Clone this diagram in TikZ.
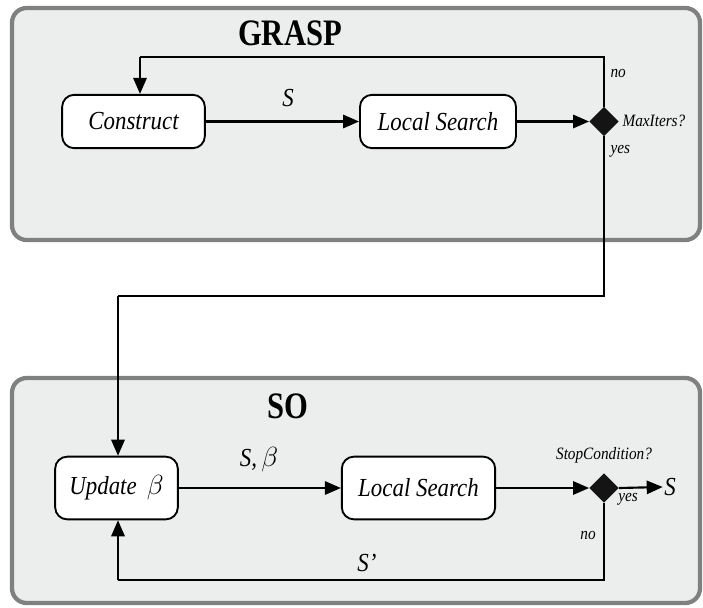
\documentclass[tikz,border=0pt]{standalone}
\usepackage{fontspec}
\setmainfont{Liberation Serif}[FakeStretch=0.88]
\newfontfamily\titlefont{Liberation Serif}[FakeStretch=0.82]
\usetikzlibrary{shapes.geometric,arrows.meta}
\definecolor{panelfill}{HTML}{ECEDED}
\definecolor{panelline}{HTML}{7F8080}
\tikzset{
  panel/.style={draw=panelline, line width=3.2pt, fill=panelfill, rounded corners=11pt},
  procbox/.style={draw=black, line width=1.4pt, fill=white, rounded corners=9pt, inner sep=0pt, font=\fontsize{19.5}{23}\selectfont\itshape},
  decision/.style={diamond, fill=black!92, draw=none, minimum width=22pt, minimum height=22pt, inner sep=0pt},
  conn/.style={line width=1.6pt, -{Triangle[length=12pt,width=10pt]}},
  line/.style={line width=1.6pt},
  lbl/.style={font=\fontsize{13}{15}\selectfont\itshape, inner sep=1pt},
  biglbl/.style={font=\fontsize{19.5}{23}\selectfont\itshape, inner sep=1pt},
  title/.style={font=\titlefont\bfseries\fontsize{28}{32}\selectfont}
}
\begin{document}
\begin{tikzpicture}[x=0.75pt,y=-0.75pt]
\useasboundingbox (0,0) rectangle (703,607);
% panels
\draw[panel] (12,8) rectangle (700,240);
\draw[panel] (12,378) rectangle (700,603);
\node[title] (tg) at (290,33) {GRASP};
\node[title] (ts) at (288,406) {SO};
% top row
\node[procbox, minimum width=107pt, minimum height=40pt] (c) at (133.5,121.5) {Construct};
\node[procbox, minimum width=117pt, minimum height=40pt] (ls1) at (438,121.5) {Local Search};
\node[decision] (d1) at (604,121.5) {};
\node[lbl, anchor=west] (mi) at (621,121) {MaxIters?};
\node[lbl, anchor=west] (no1) at (609,73) {no};
\node[lbl, anchor=west] (yes1) at (609,151) {yes};
\node[biglbl] (s1) at (288,98) {S};
\draw[conn] (c) -- (ls1);
\draw[conn] (ls1) -- (d1);
\coordinate (k1) at (140,57);
\draw[line] (d1.north) |- (k1);
\draw[conn] (k1) -- (k1 |- c.north);
\coordinate (k2) at (118,296);
\draw[line] (d1.south) |- (k2);
% bottom row
\node[procbox, minimum width=92pt, minimum height=47pt] (u) at (116.5,488) {Update \,$\beta$};
\node[procbox, minimum width=115pt, minimum height=47pt] (ls2) at (418.5,488) {Local Search};
\node[decision] (d2) at (604,488) {};
\node[lbl] (sc) at (604,455) {StopCondition?};
\node[lbl] (yes2) at (628,499) {yes};
\node[lbl] (no2) at (588,535) {no};
\node[biglbl] (sout) at (670,487) {S};
\node[biglbl] (sb) at (259,460) {S,\,$\beta$};
\node[biglbl] (sp) at (367,563) {S'};
\draw[conn] (k2) -- (k2 |- u.north);
\draw[conn] (u) -- (ls2);
\draw[conn] (ls2) -- (d2);
\draw[conn] (d2.east) -- (sout.west);
\coordinate (k3) at (118,580);
\draw[line] (d2.south) |- (k3);
\draw[conn] (k3) -- (k3 |- u.south);
\end{tikzpicture}
\end{document}
